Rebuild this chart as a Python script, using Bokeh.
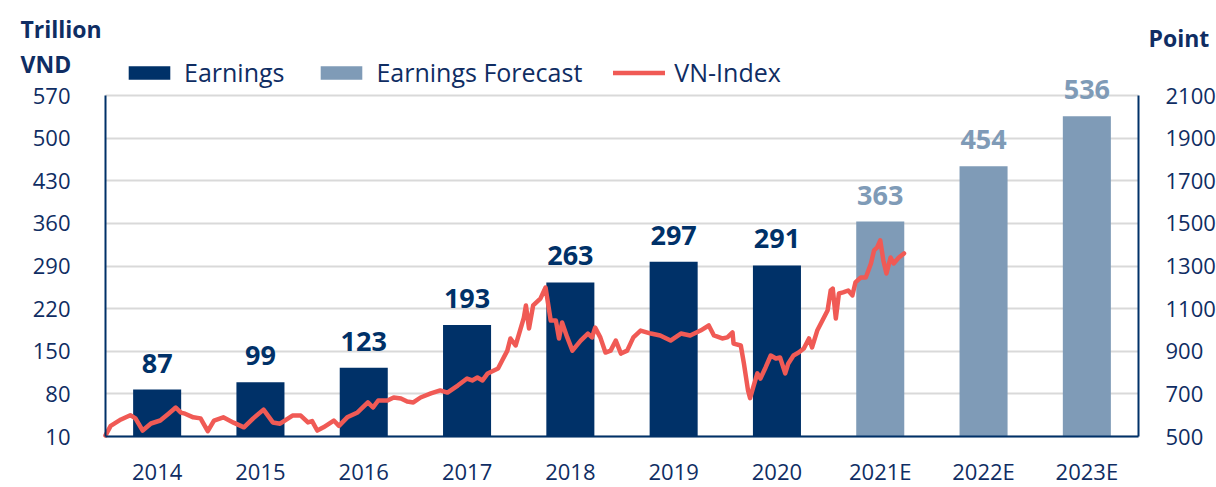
from bokeh.plotting import figure
from bokeh.models import (Range1d, LinearAxis, FixedTicker, Legend, LegendItem, Grid,
                          Label, LabelSet, ColumnDataSource)
from bokeh.core.properties import value
from bokeh.embed import file_html
from bokeh.resources import INLINE

# ---------------- data ----------------
categories = ["2014", "2015", "2016", "2017", "2018", "2019", "2020", "2021E", "2022E", "2023E"]
earnings = [87, 99, 123, 193, 263, 297, 291, 363, 454, 536]
is_forecast = [False, False, False, False, False, False, False, True, True, True]

left_ticks = [10, 80, 150, 220, 290, 360, 430, 500, 570]
right_ticks = [500, 700, 900, 1100, 1300, 1500, 1700, 1900, 2100]

# VN-Index (decimal year, points)
vn_dates = [2014.00, 2014.05, 2014.15, 2014.24, 2014.29, 2014.36, 2014.44, 2014.53, 2014.61, 2014.68,
            2014.73, 2014.77, 2014.85, 2014.92, 2014.99, 2015.05, 2015.14, 2015.24, 2015.34, 2015.43,
            2015.53, 2015.62, 2015.69, 2015.81, 2015.89, 2015.96, 2016.00, 2016.05, 2016.11, 2016.21,
            2016.26, 2016.34, 2016.44, 2016.54, 2016.59, 2016.64, 2016.73, 2016.79, 2016.86, 2016.92,
            2016.98, 2017.05, 2017.15, 2017.24, 2017.31, 2017.41, 2017.50, 2017.55, 2017.60, 2017.65,
            2017.70, 2017.80, 2017.85, 2017.89, 2017.92, 2017.97, 2018.05, 2018.07, 2018.10, 2018.14,
            2018.21, 2018.26, 2018.31, 2018.36, 2018.39, 2018.42, 2018.47, 2018.52, 2018.60, 2018.67,
            2018.71, 2018.74, 2018.79, 2018.84, 2018.89, 2018.94, 2018.99, 2019.05, 2019.11, 2019.18,
            2019.28, 2019.37, 2019.47, 2019.57, 2019.66, 2019.76, 2019.84, 2019.89, 2019.97, 2020.02,
            2020.07, 2020.08, 2020.15, 2020.18, 2020.22, 2020.24, 2020.27, 2020.31, 2020.34, 2020.39,
            2020.44, 2020.49, 2020.53, 2020.58, 2020.61, 2020.66, 2020.71, 2020.76, 2020.81, 2020.84,
            2020.89, 2020.94, 2020.99, 2021.02, 2021.04, 2021.07, 2021.10, 2021.14, 2021.19, 2021.23,
            2021.26, 2021.31, 2021.36, 2021.41, 2021.44, 2021.47, 2021.50, 2021.53, 2021.56, 2021.60,
            2021.63, 2021.68, 2021.73]
vn_values = [505, 550, 580, 600, 585, 528, 561, 575, 607, 636,
             612, 607, 590, 585, 525, 575, 590, 565, 543, 585,
             626, 566, 560, 598, 598, 566, 572, 528, 543, 575,
             550, 590, 613, 660, 636, 669, 669, 683, 678, 664,
             660, 683, 702, 716, 706, 739, 772, 763, 777, 763,
             796, 819, 866, 903, 960, 927, 1058, 1115, 1007, 1115,
             1147, 1199, 1044, 1044, 960, 1035, 965, 903, 950, 983,
             965, 1011, 965, 894, 903, 950, 889, 903, 965, 997,
             983, 974, 950, 983, 974, 997, 1021, 974, 960, 965,
             988, 936, 927, 843, 716, 680, 730, 796, 772, 824,
             880, 866, 871, 796, 843, 880, 894, 913, 960, 918,
             997, 1044, 1091, 1185, 1194, 1054, 1171, 1176, 1185, 1162,
             1223, 1246, 1246, 1312, 1373, 1387, 1420, 1326, 1265, 1340,
             1312, 1340, 1359]

# ---------------- style / layout ----------------
NAVY = "#003168"
FORE = "#7F9BB7"
RED = "#F05A55"
TXT = "#0F2D63"
GRID = "#D9D9D9"
FONT = "Open Sans"

W, H = 1216, 487
PX_L, PX_R, PX_T, PX_B = 105, 1138, 95, 436   # plot box inside the canvas

n = len(categories)
ux = n / (PX_R - PX_L)
uy = (left_ticks[-1] - left_ticks[0]) / (PX_B - PX_T)
uv = (right_ticks[-1] - right_ticks[0]) / (PX_B - PX_T)
x0, x1 = -0.5, n - 0.5

def dx(px):  # canvas x pixel -> data x
    return x0 + (px - PX_L) * ux

def dy(py):  # canvas y pixel -> left-axis data y
    return left_ticks[-1] + (PX_T - py) * uy

p = figure(width=W, height=H,
           x_range=Range1d(dx(0), dx(W)),
           y_range=Range1d(dy(H), dy(0)),
           x_axis_location=None, y_axis_location=None,
           output_backend="svg", toolbar_location=None,
           min_border=0, min_border_left=0, min_border_right=0,
           min_border_top=0, min_border_bottom=0)
p.extra_y_ranges = {"vn": Range1d(right_ticks[0] - (H - PX_B) * uv, right_ticks[-1] + PX_T * uv)}
p.outline_line_color = None
p.background_fill_color = "white"
p.border_fill_color = "white"
for g in p.grid:
    g.visible = False

p.add_layout(Grid(dimension=1, ticker=FixedTicker(ticks=left_ticks), cross_bounds=(x0, x1),
                  grid_line_color=GRID, grid_line_width=2))

idx = list(range(n))
act_src = ColumnDataSource(dict(x=[i for i in idx if not is_forecast[i]],
                                top=[earnings[i] for i in idx if not is_forecast[i]]))
fc_src = ColumnDataSource(dict(x=[i for i in idx if is_forecast[i]],
                               top=[earnings[i] for i in idx if is_forecast[i]]))
r_act = p.vbar(x="x", top="top", bottom=left_ticks[0], width=0.465, source=act_src,
               fill_color=NAVY, line_color=None)
r_fc = p.vbar(x="x", top="top", bottom=left_ticks[0], width=0.465, source=fc_src,
              fill_color=FORE, line_color=None)

vn_x = [d - 2014 - 0.5 for d in vn_dates]
r_vn = p.line(vn_x, vn_values, y_range_name="vn", line_color=RED, line_width=4.5,
              line_join="round", line_cap="round")

lab_src = ColumnDataSource(dict(x=idx, y=earnings, t=[str(v) for v in earnings],
                                c=[FORE if f else NAVY for f in is_forecast]))
p.add_layout(LabelSet(x="x", y="y", text="t", source=lab_src, text_color="c",
                      text_font=value(FONT), text_font_style="bold", text_font_size="27px",
                      text_align="center", text_baseline="bottom", y_offset=17))

# axes drawn at fixed locations
ax_b = LinearAxis(fixed_location=left_ticks[0], bounds=(x0, x1), ticker=FixedTicker(ticks=idx),
                  major_label_overrides={i: c for i, c in zip(idx, categories)})
ax_l = LinearAxis(fixed_location=x0, bounds=(left_ticks[0], left_ticks[-1]),
                  ticker=FixedTicker(ticks=left_ticks))
ax_r = LinearAxis(fixed_location=x1, y_range_name="vn", bounds=(right_ticks[0], right_ticks[-1]),
                  ticker=FixedTicker(ticks=right_ticks))
for ax, so in [(ax_b, 19), (ax_l, 35), (ax_r, 27)]:
    ax.axis_line_color = NAVY
    ax.axis_line_width = 2
    ax.major_tick_line_color = None
    ax.minor_tick_line_color = None
    ax.major_tick_out = 0
    ax.major_tick_in = 0
    ax.minor_tick_out = 0
    ax.major_label_standoff = so
    ax.major_label_text_font = FONT
    ax.major_label_text_font_size = "22px"
    ax.major_label_text_color = TXT
p.add_layout(ax_b, "below")
p.add_layout(ax_l, "left")
p.add_layout(ax_r, "right")

# legend
legend = Legend(items=[LegendItem(label="Earnings", renderers=[r_act]),
                       LegendItem(label="Earnings Forecast", renderers=[r_fc]),
                       LegendItem(label="VN-Index", renderers=[r_vn])],
                orientation="horizontal", location=(123, H - 89),
                glyph_width=52, glyph_height=17, label_standoff=9, spacing=31,
                padding=0, margin=0, border_line_color=None, background_fill_alpha=0,
                label_text_font=FONT, label_text_font_size="25px", label_text_color=TXT,
                label_height=20)
p.add_layout(legend, "center")

# axis titles
for txt, px, py in [("Trillion", 20, 28), ("VND", 20, 63), ("Point", 1148, 37)]:
    p.add_layout(Label(x=dx(px), y=dy(py), text=txt, text_font=FONT, text_font_style="bold",
                       text_font_size="23px", text_color=TXT, text_baseline="middle",
                       text_align="left"))

open("out.html", "w").write(file_html(p, INLINE))
